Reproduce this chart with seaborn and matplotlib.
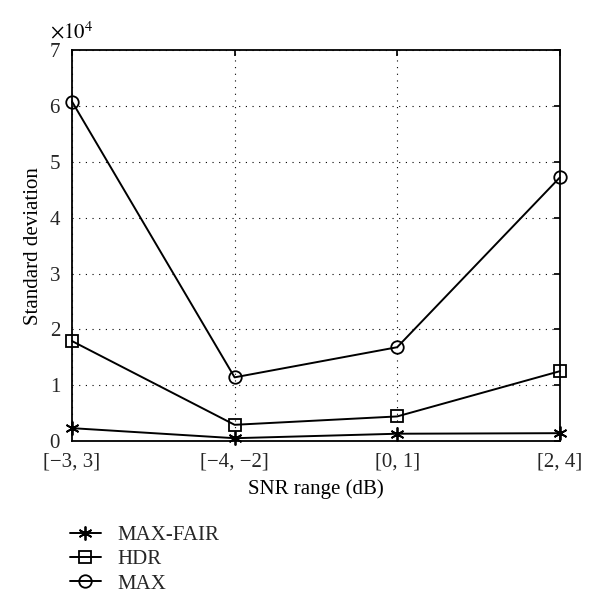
import matplotlib
matplotlib.use("Agg")
import matplotlib.pyplot as plt
import seaborn as sns
import pandas as pd
from matplotlib.ticker import ScalarFormatter

categories = ["[\u22123, 3]", "[\u22124, \u22122]", "[0, 1]", "[2, 4]"]
max_fair = [2300, 500, 1300, 1400]
hdr = [17900, 2900, 4400, 12500]
max_vals = [60800, 11400, 16800, 47200]

series = {"MAX-FAIR": max_fair, "HDR": hdr, "MAX": max_vals}
markers = {"MAX-FAIR": (6, 2, 0), "HDR": "s", "MAX": "o"}
sizes = {"MAX-FAIR": 10, "HDR": 8, "MAX": 9}

sns.set_theme(style="white")
plt.rcParams["font.family"] = ["Liberation Serif", "DejaVu Serif"]
plt.rcParams["mathtext.fontset"] = "stix"

fig = plt.figure(figsize=(6, 6.13), dpi=100)
ax = fig.add_axes([0.12, 0.2806, 0.813, 0.6375])

rows = []
for name, vals in series.items():
    for i, v in enumerate(vals):
        rows.append({"x": i, "y": v, "series": name})
df = pd.DataFrame(rows)

for name in series:
    sub = df[df["series"] == name]
    sns.lineplot(data=sub, x="x", y="y", ax=ax, color="black", lw=1.4,
                 marker=markers[name], markersize=sizes[name], markerfacecolor="none",
                 markeredgecolor="black", markeredgewidth=1.3, label=name, legend=False,
                 clip_on=False, zorder=5)

ax.set_xlim(0, 3)
ax.set_ylim(0, 70000)
ax.set_xticks(range(4))
ax.set_xticklabels(categories)
ax.set_yticks([i * 10000 for i in range(8)])
fmt = ScalarFormatter(useMathText=True)
fmt.set_powerlimits((0, 0))
ax.yaxis.set_major_formatter(fmt)
ax.yaxis.get_offset_text().set_visible(False)
ax.text(0.0, 1.018, r"$\times10^{4}$", transform=ax.transAxes, fontsize=15,
        ha="center", va="bottom", color="black")
ax.tick_params(axis="both", labelsize=15, direction="in", length=4, color="black",
               top=True, right=True)
ax.tick_params(axis="x", pad=8)
ax.tick_params(axis="y", pad=8)
ax.grid(True, linestyle=(0, (1, 5)), color="black", lw=0.8)
for s in ax.spines.values():
    s.set_color("black")
    s.set_linewidth(1.3)
ax.set_xlabel("SNR range (dB)", fontsize=15, color="black", labelpad=6)
ax.set_ylabel("Standard deviation", fontsize=15, color="black")

handles, labels = ax.get_legend_handles_labels()
fig.legend(handles, labels, loc="upper left", bbox_to_anchor=(0.085, 0.173),
           frameon=False, fontsize=15, handlelength=1.5, labelspacing=0.22, handletextpad=0.8)

fig.savefig("out.png", dpi=100)
